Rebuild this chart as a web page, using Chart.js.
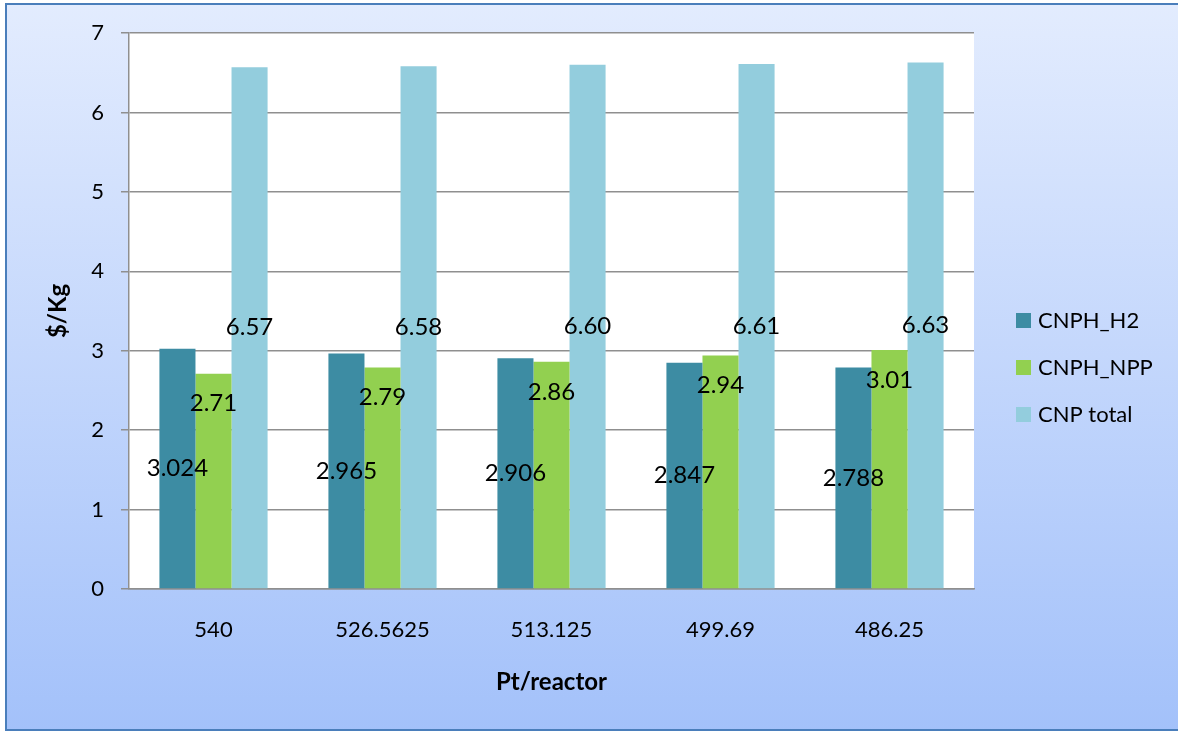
<!DOCTYPE html>
<html>
<head>
<meta charset="utf-8">
<script src="https://cdn.jsdelivr.net/npm/chart.js@4/dist/chart.umd.min.js"></script>
<style>
  html, body { margin: 0; padding: 0; background: #ffffff; }
  #wrap { width: 1178px; height: 732px; position: relative; }
  canvas { display: block; }
</style>
</head>
<body>
<div id="wrap"><canvas id="chart" width="1178" height="732"></canvas></div>
<script>
// Cost per kg for each Pt/reactor loading
const categories = ['540', '526.5625', '513.125', '499.69', '486.25'];
const cnphH2 = [3.024, 2.965, 2.906, 2.847, 2.788];
const cnphNpp = [2.71, 2.79, 2.86, 2.94, 3.01];
const cnpTotal = [6.57, 6.58, 6.60, 6.61, 6.63];
const seriesNames = ['CNPH_H2', 'CNPH_NPP', 'CNP total'];
const yTicks = [0, 1, 2, 3, 4, 5, 6, 7];

const FONT = 'Lato, "Open Sans", sans-serif';
const GRID = '#8f8f8f';

// Frame: gradient panel, blue border, white plot area
const framePlugin = {
  id: 'frame',
  beforeDraw(chart) {
    const { ctx, width, height, chartArea: a } = chart;
    ctx.save();
    const g = ctx.createLinearGradient(0, 0, 0, height);
    g.addColorStop(0, '#e3ecfe');
    g.addColorStop(1, '#a3c1fa');
    ctx.fillStyle = g;
    ctx.fillRect(0, 0, width, height);
    ctx.fillStyle = '#ffffff';
    ctx.fillRect(0, 0, width, 3);
    ctx.fillRect(0, 0, 5, height);
    ctx.fillRect(0, height - 1, width, 1);
    ctx.strokeStyle = '#4a7ebb';
    ctx.lineWidth = 2;
    ctx.strokeRect(6, 4, width + 10, height - 6);
    ctx.fillStyle = '#ffffff';
    ctx.fillRect(a.left, a.top, a.right - a.left, a.bottom - a.top);
    ctx.restore();
  }
};

// Value labels on the bars
const valueLabelPlugin = {
  id: 'valueLabels',
  afterDatasetsDraw(chart) {
    const { ctx } = chart;
    ctx.save();
    ctx.font = '24px ' + FONT;
    ctx.fillStyle = '#000000';
    ctx.textAlign = 'center';
    ctx.textBaseline = 'middle';
    chart.data.datasets.forEach((ds, i) => {
      const meta = chart.getDatasetMeta(i);
      meta.data.forEach((bar, j) => {
        const v = ds.data[j];
        const text = v.toFixed(ds.labelDigits);
        const y = ds.labelPlace === 'top' ? bar.y + 30 : (bar.y + bar.base) / 2;
        ctx.fillText(text, bar.x, y);
      });
    });
    ctx.restore();
  }
};

// Legend at the right
const sideLegendPlugin = {
  id: 'sideLegend',
  afterDraw(chart) {
    const { ctx } = chart;
    ctx.save();
    ctx.font = '22px ' + FONT;
    ctx.textAlign = 'left';
    ctx.textBaseline = 'middle';
    chart.data.datasets.forEach((ds, i) => {
      const cy = 320 + i * 47;
      ctx.fillStyle = ds.backgroundColor;
      ctx.fillRect(1016, cy - 7, 15, 15);
      ctx.fillStyle = '#000000';
      ctx.fillText(ds.label, 1038, cy + 1);
    });
    ctx.restore();
  }
};

new Chart(document.getElementById('chart'), {
  type: 'bar',
  data: {
    labels: categories,
    datasets: [
      { label: seriesNames[0], data: cnphH2, backgroundColor: '#3d8ca3', labelDigits: 3, labelPlace: 'center' },
      { label: seriesNames[1], data: cnphNpp, backgroundColor: '#92d050', labelDigits: 2, labelPlace: 'top' },
      { label: seriesNames[2], data: cnpTotal, backgroundColor: '#93cddd', labelDigits: 2, labelPlace: 'center' }
    ]
  },
  options: {
    responsive: false,
    animation: false,
    devicePixelRatio: 1,
    layout: { padding: { left: 0, top: 33, right: 204, bottom: 0 } },
    datasets: { bar: { categoryPercentage: 0.64, barPercentage: 1.0 } },
    plugins: {
      legend: { display: false },
      tooltip: { enabled: false }
    },
    scales: {
      x: {
        grid: { display: false, drawTicks: false },
        border: { display: true, color: GRID, width: 1.5 },
        ticks: { color: '#000000', padding: 28, font: { family: FONT, size: 22 } },
        title: {
          display: true, text: 'Pt/reactor', color: '#000000',
          font: { family: FONT, size: 24, weight: 'bold' },
          padding: { top: 0, bottom: 35 }
        },
        afterFit(scale) { scale.height = 732 - 589; }
      },
      y: {
        min: 0, max: 7,
        afterBuildTicks(scale) { scale.ticks = yTicks.map(v => ({ value: v })); },
        grid: { color: GRID, lineWidth: 1.5, drawTicks: true, tickLength: 8, tickColor: GRID },
        border: { display: true, color: GRID, width: 1.5 },
        ticks: { color: '#000000', padding: 17, font: { family: FONT, size: 22 } },
        title: {
          display: true, text: '$/Kg', color: '#000000',
          font: { family: FONT, size: 24, weight: 'bold' },
          padding: { top: 44, bottom: 0 }
        },
        afterFit(scale) { scale.width = 129; }
      }
    }
  },
  plugins: [framePlugin, valueLabelPlugin, sideLegendPlugin]
});
</script>
</body>
</html>
